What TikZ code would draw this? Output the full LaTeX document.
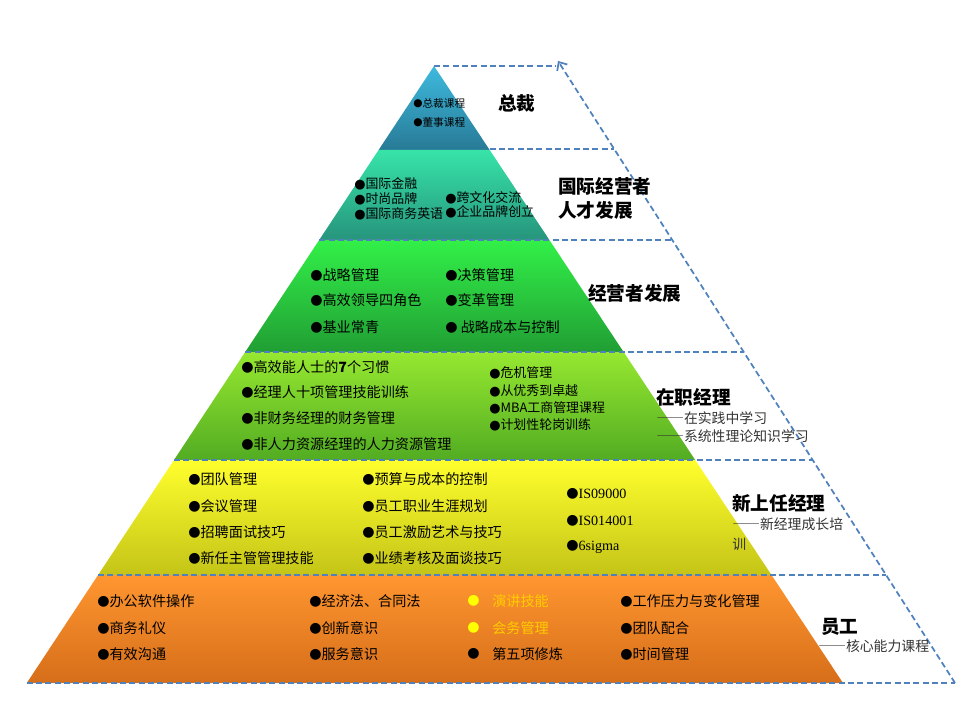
\documentclass[tikz,border=0pt]{standalone}
\usepackage{fontspec}
\setmainfont{Noto Sans CJK SC}
\newfontfamily\sym{DejaVu Sans}
\newfontfamily\lat{Liberation Serif}
\newfontfamily\fw[RawFeature=+fwid]{Noto Sans CJK SC}
\usetikzlibrary{arrows.meta}
\definecolor{dblue}{RGB}{79,129,189}
\definecolor{cat}{RGB}{62,186,222}
\definecolor{cab}{RGB}{40,122,150}
\definecolor{cbt}{RGB}{55,228,168}
\definecolor{cbb}{RGB}{38,148,124}
\definecolor{cct}{RGB}{50,240,72}
\definecolor{ccb}{RGB}{33,158,52}
\definecolor{cdt}{RGB}{150,232,48}
\definecolor{cdb}{RGB}{82,172,34}
\definecolor{cet}{RGB}{255,255,45}
\definecolor{ceb}{RGB}{196,196,24}
\definecolor{cft}{RGB}{255,150,48}
\definecolor{cfb}{RGB}{214,110,26}
\definecolor{ybul}{RGB}{255,255,0}
\definecolor{gold}{RGB}{255,204,0}
\newcommand\bul{\raisebox{0.07em}{\sym ●}}
\newcommand\dd{{\fw ——}}
\tikzset{
  band/.style={draw=none},
  frame/.style={draw=dblue, line width=1.3pt, dash pattern=on 4.5pt off 2.5pt},
  itemA/.style={anchor=west, inner sep=0pt, font=\fontsize{8}{9.6}\selectfont},
  itemB/.style={anchor=west, inner sep=0pt, font=\fontsize{9.7}{12}\selectfont},
  itemC/.style={anchor=west, inner sep=0pt, font=\fontsize{10.6}{12.5}\selectfont},
  ttl/.style={anchor=west, inner sep=0pt, align=left, font=\fontsize{14}{18}\selectfont\bfseries},
  sub/.style={anchor=west, inner sep=0pt, text=black!80, font=\fontsize{10.4}{12}\selectfont},
}
\begin{document}
\begin{tikzpicture}[x=0.75pt,y=-0.75pt]
\useasboundingbox (0,0) rectangle (960,720);
% pyramid bands
\path[band, top color=cat, bottom color=cab] (434,66) -- (489.7,150) -- (378.6,150) -- cycle;
\path[band, top color=cbt, bottom color=cbb] (378.6,150) -- (489.7,150) -- (549.4,240) -- (319.2,240) -- cycle;
\path[band, top color=cct, bottom color=ccb] (319.2,240) -- (549.4,240) -- (623.6,352) -- (245.2,352) -- cycle;
\path[band, top color=cdt, bottom color=cdb] (245.2,352) -- (623.6,352) -- (695.2,460) -- (174,460) -- cycle;
\path[band, top color=cet, bottom color=ceb] (174,460) -- (695.2,460) -- (771.5,575) -- (98.1,575) -- cycle;
\path[band, top color=cft, bottom color=cfb] (98.1,575) -- (771.5,575) -- (843,683) -- (26.8,683) -- cycle;
% dashed frame
\coordinate (f0l) at (434,66);   \coordinate (f0r) at (556,66);
\coordinate (f1l) at (489.7,149); \coordinate (f1r) at (614,149);
\coordinate (f2l) at (319.2,240); \coordinate (f2r) at (672,240);
\coordinate (f3l) at (245.2,352); \coordinate (f3r) at (744,352);
\coordinate (f4l) at (174,460);   \coordinate (f4r) at (813,460);
\coordinate (f5l) at (98.1,575);  \coordinate (f5r) at (886,575);
\coordinate (f6l) at (26.8,683);  \coordinate (f6r) at (955,683);
\coordinate (tip) at (558,61);
\foreach \i in {0,...,6} {\draw[frame] (f\i l) -- (f\i r);}
\draw[frame, -{Straight Barb[length=5pt,width=9pt]}] (f6r) -- (tip);
% tier 1
\node[itemA] (a1) at (413,103) {\bul{}总裁课程};
\node[itemA] (a2) at (413,122) {\bul{}董事课程};
\node[ttl] (ta) at (498,103) {总裁};
% tier 2
\node[itemB] (b1) at (354,184) {\bul{}国际金融};
\node[itemB] (b2) at (354,199) {\bul{}时尚品牌};
\node[itemB] (b3) at (354,214) {\bul{}国际商务英语};
\node[itemB] (b4) at (445,198) {\bul{}跨文化交流};
\node[itemB] (b5) at (445,212) {\bul{}企业品牌创立};
\node[ttl] (tb) at (558,198) {国际经营者\\人才发展};
% tier 3
\node[itemC] (c1) at (310,275) {\bul{}战略管理};
\node[itemC] (c2) at (310,300) {\bul{}高效领导四角色};
\node[itemC] (c3) at (310,327) {\bul{}基业常青};
\node[itemC] (c4) at (445,275) {\bul{}决策管理};
\node[itemC] (c5) at (445,300) {\bul{}变革管理};
\node[itemC] (c6) at (445,327) {\bul{}\ 战略成本与控制};
\node[ttl] (tc) at (588,293) {经营者发展};
% tier 4
\node[itemC] (d1) at (241,367) {\bul{}高效能人士的{\bfseries 7}个习惯};
\node[itemC] (d2) at (241,392) {\bul{}经理人十项管理技能训练};
\node[itemC] (d3) at (241,418) {\bul{}非财务经理的财务管理};
\node[itemC] (d4) at (241,444) {\bul{}非人力资源经理的人力资源管理};
\node[itemB] (d5) at (489,373) {\bul{}危机管理};
\node[itemB] (d6) at (489,391) {\bul{}从优秀到卓越};
\node[itemB] (d7) at (489,408) {\bul{}MBA工商管理课程};
\node[itemB] (d8) at (489,425) {\bul{}计划性轮岗训练};
\node[ttl] (td) at (656,397) {在职经理};
\node[sub] (sd1) at (656,418) {\dd{}在实践中学习};
\node[sub] (sd2) at (656,436) {\dd{}系统性理论知识学习};
% tier 5
\node[itemC] (e1) at (188,479) {\bul{}团队管理};
\node[itemC] (e2) at (188,506) {\bul{}会议管理};
\node[itemC] (e3) at (188,532) {\bul{}招聘面试技巧};
\node[itemC] (e4) at (188,558) {\bul{}新任主管管理技能};
\node[itemC] (e5) at (362,479) {\bul{}预算与成本的控制};
\node[itemC] (e6) at (362,506) {\bul{}员工职业生涯规划};
\node[itemC] (e7) at (362,532) {\bul{}员工激励艺术与技巧};
\node[itemC] (e8) at (362,558) {\bul{}业绩考核及面谈技巧};
\node[itemC] (e9) at (566,494) {\bul{}{\lat IS09000}};
\node[itemC] (e10) at (566,521) {\bul{}{\lat IS014001}};
\node[itemC] (e11) at (566,547) {\bul{}{\lat 6sigma}};
\node[ttl] (te) at (732,503) {新上任经理};
\node[sub] (se1) at (732,524) {\dd{}新经理成长培};
\node[sub] (se2) at (732,544) {训};
% tier 6
\node[itemC] (f1) at (97,601) {\bul{}办公软件操作};
\node[itemC] (f2) at (97,628) {\bul{}商务礼仪};
\node[itemC] (f3) at (97,654) {\bul{}有效沟通};
\node[itemC] (g1) at (309,601) {\bul{}经济法、合同法};
\node[itemC] (g2) at (309,628) {\bul{}创新意识};
\node[itemC] (g3) at (309,654) {\bul{}服务意识};
\node[itemC, text=ybul] (hb1) at (467,601) {\bul{}};
\node[itemC, text=ybul] (hb2) at (467,628) {\bul{}};
\node[itemC] (hb3) at (467,654) {\bul{}};
\node[itemC, text=gold] (h1) at (492,601) {演讲技能};
\node[itemC, text=gold] (h2) at (492,628) {会务管理};
\node[itemC] (h3) at (492,654) {第五项修炼};
\node[itemC] (i1) at (620,601) {\bul{}工作压力与变化管理};
\node[itemC] (i2) at (620,628) {\bul{}团队配合};
\node[itemC] (i3) at (620,654) {\bul{}时间管理};
\node[ttl] (tf) at (821,627) {员工};
\node[sub] (sf1) at (818,646) {\dd{}核心能力课程};
\end{tikzpicture}
\end{document}
